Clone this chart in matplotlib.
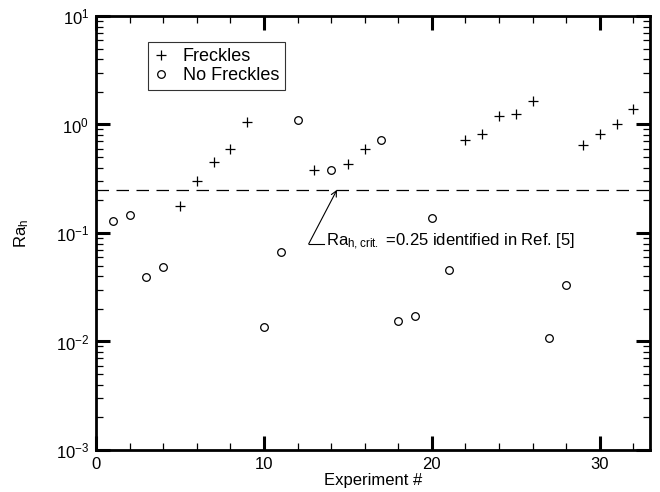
import matplotlib
matplotlib.use('Agg')
import matplotlib.pyplot as plt
from matplotlib.ticker import LogLocator, MultipleLocator, NullFormatter

plt.rcParams['font.family'] = ['Liberation Sans', 'DejaVu Sans']
plt.rcParams['mathtext.default'] = 'regular'

# Experiments that showed freckles
freckle_exp = [5, 6, 7, 8, 9, 13, 15, 16, 22, 23, 24, 25, 26, 29, 30, 31, 32]
freckle_ra = [0.177, 0.30, 0.45, 0.59, 1.06, 0.38, 0.43, 0.60, 0.72, 0.81,
              1.21, 1.26, 1.65, 0.65, 0.81, 1.0, 1.38]

# Experiments without freckles
clean_exp = [1, 2, 3, 4, 10, 11, 12, 14, 17, 18, 19, 20, 21, 27, 28]
clean_ra = [0.129, 0.147, 0.039, 0.049, 0.0135, 0.067, 1.10, 0.38, 0.72,
            0.0155, 0.0173, 0.137, 0.0456, 0.0107, 0.0332]

ra_crit = 0.25

fig = plt.figure(figsize=(6.6, 4.92), dpi=100)
ax = fig.add_axes([0.1455, 0.0854, 0.8395, 0.8821])

ax.plot(freckle_exp, freckle_ra, '+', color='black', markersize=7,
        markeredgewidth=0.9, label='Freckles')
ax.plot(clean_exp, clean_ra, 'o', markerfacecolor='none',
        markeredgecolor='black', markersize=5.5, markeredgewidth=0.9,
        label='No Freckles')

ax.axhline(ra_crit, color='black', linewidth=0.9, dashes=(10, 6))

ax.set_yscale('log')
ax.set_xlim(0, 33)
ax.set_ylim(1e-3, 1e1)

ax.xaxis.set_major_locator(MultipleLocator(10))
ax.xaxis.set_minor_locator(MultipleLocator(2))
ax.yaxis.set_major_locator(LogLocator(base=10))
ax.yaxis.set_minor_locator(LogLocator(base=10, subs=range(2, 10)))
ax.yaxis.set_minor_formatter(NullFormatter())

ax.tick_params(which='both', direction='in', top=True, right=True,
               labelsize=12, colors='black')
ax.tick_params(which='major', length=10, width=2.2, pad=5)
ax.tick_params(which='minor', length=5, width=0.9)
for s in ax.spines.values():
    s.set_linewidth(2)

ax.set_xlabel('Experiment #', fontsize=12, labelpad=1)
ax.set_ylabel('$Ra_{h}$', fontsize=12, labelpad=18)

# arrow pointing at the critical value
ax.annotate('', xy=(14.35, ra_crit), xytext=(12.66, 0.079),
            arrowprops=dict(arrowstyle='->', color='black', lw=0.8,
                            shrinkA=0, shrinkB=0))
ax.plot([12.66, 13.55], [0.079, 0.079], color='black', lw=0.8)
ax.text(13.7, 0.082, '$Ra_{h,crit.}$ =0.25 identified in Ref. [5]',
        fontsize=12, va='center', ha='left')

leg = ax.legend(loc='upper left', bbox_to_anchor=(0.093, 0.94),
                fontsize=13, frameon=True, fancybox=False, edgecolor='black',
                handlelength=0.8, handletextpad=0.8, borderpad=0.35,
                labelspacing=0.1, borderaxespad=0)
leg.get_frame().set_linewidth(0.8)

fig.savefig('out.png', dpi=100)
